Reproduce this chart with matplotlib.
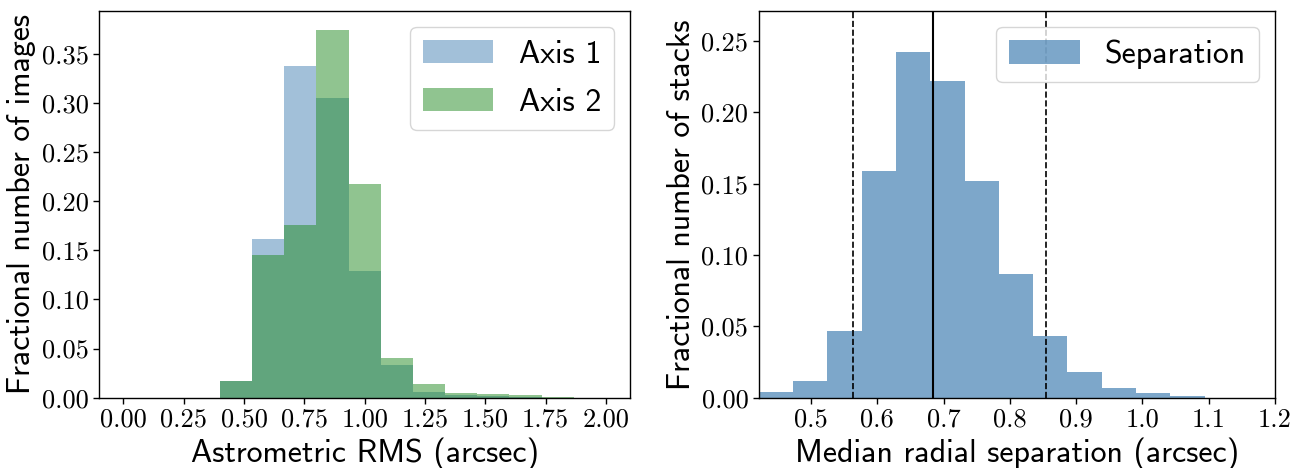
import numpy as np
import matplotlib
matplotlib.use("Agg")
import matplotlib.pyplot as plt
from matplotlib.ticker import FormatStrFormatter

# ---------------- data ----------------
rms_range = (0.0, 2.0)
rms_nbins = 15
axis1_frac = [0, 0, 0, 0.017, 0.162, 0.338, 0.305, 0.129, 0.033, 0.006,
              0.0024, 0.0017, 0.001, 0, 0]
axis2_frac = [0, 0, 0, 0.017, 0.145, 0.176, 0.374, 0.218, 0.040, 0.014,
              0.0048, 0.0035, 0.0027, 0.0005, 0]

sep_range = (0.421, 1.094)
sep_nbins = 13
sep_frac = [0.004, 0.012, 0.047, 0.159, 0.242, 0.222, 0.152, 0.087,
            0.043, 0.018, 0.007, 0.003, 0.001]
sep_median = 0.684
sep_p16 = 0.563
sep_p84 = 0.855

left_xticks = [0.0, 0.25, 0.5, 0.75, 1.0, 1.25, 1.5, 1.75, 2.0]
left_yticks = [0.0, 0.05, 0.10, 0.15, 0.20, 0.25, 0.30, 0.35]
right_xticks = [0.5, 0.6, 0.7, 0.8, 0.9, 1.0, 1.1, 1.2]
right_yticks = [0.0, 0.05, 0.10, 0.15, 0.20, 0.25]

# ---------------- style ----------------
plt.rcParams['axes.formatter.use_mathtext'] = True
LABEL_FONT = 'cmss10'
TICK_FONT = 'cmr10'
LABEL_SIZE = 23
TICK_SIZE = 19
LEG_SIZE = 23

fig = plt.figure(figsize=(12.94, 4.68), dpi=100)
ax1 = fig.add_axes([0.0767, 0.1502, 0.4102, 0.8263])
ax2 = fig.add_axes([0.5863, 0.1502, 0.3990, 0.8263])

leg_kw = dict(loc='upper right', prop={'family': LABEL_FONT, 'size': LEG_SIZE},
              handlelength=2.2, handleheight=0.75, labelspacing=0.6)

# ---------------- left panel ----------------
edges1 = np.linspace(rms_range[0], rms_range[1], rms_nbins + 1)
centers1 = 0.5 * (edges1[:-1] + edges1[1:])
ax1.hist(centers1, bins=edges1, weights=axis1_frac, color='steelblue',
         alpha=0.5, label='Axis 1')
ax1.hist(centers1, bins=edges1, weights=axis2_frac, color='forestgreen',
         alpha=0.5, label='Axis 2')
ax1.set_xlim(-0.1, 2.1)
ax1.set_ylim(0, 0.3937)
ax1.set_xticks(left_xticks)
ax1.set_yticks(left_yticks)
ax1.xaxis.set_major_formatter(FormatStrFormatter('%.2f'))
ax1.yaxis.set_major_formatter(FormatStrFormatter('%.2f'))
ax1.set_xlabel('Astrometric RMS (arcsec)', family=LABEL_FONT, fontsize=LABEL_SIZE)
ax1.set_ylabel('Fractional number of images', family=LABEL_FONT, fontsize=LABEL_SIZE)
ax1.legend(**leg_kw)

# ---------------- right panel ----------------
edges2 = np.linspace(sep_range[0], sep_range[1], sep_nbins + 1)
centers2 = 0.5 * (edges2[:-1] + edges2[1:])
ax2.hist(centers2, bins=edges2, weights=sep_frac, color='steelblue',
         alpha=0.7, label='Separation')
ax2.axvline(sep_median, color='black', lw=1.5)
ax2.axvline(sep_p16, color='black', lw=1.2, ls='--')
ax2.axvline(sep_p84, color='black', lw=1.2, ls='--')
ax2.set_xlim(sep_range[0], 1.2)
ax2.set_ylim(0, 0.271)
ax2.set_xticks(right_xticks)
ax2.set_yticks(right_yticks)
ax2.xaxis.set_major_formatter(FormatStrFormatter('%.1f'))
ax2.yaxis.set_major_formatter(FormatStrFormatter('%.2f'))
ax2.set_xlabel('Median radial separation (arcsec)', family=LABEL_FONT, fontsize=LABEL_SIZE)
ax2.set_ylabel('Fractional number of stacks', family=LABEL_FONT, fontsize=LABEL_SIZE)
ax2.legend(**leg_kw)

for ax in (ax1, ax2):
    for lab in ax.get_xticklabels() + ax.get_yticklabels():
        lab.set_family(TICK_FONT)
        lab.set_fontsize(TICK_SIZE)
    ax.tick_params(direction='out', length=4, width=1)
    for s in ax.spines.values():
        s.set_linewidth(1.0)

fig.savefig('out.png', dpi=100)
